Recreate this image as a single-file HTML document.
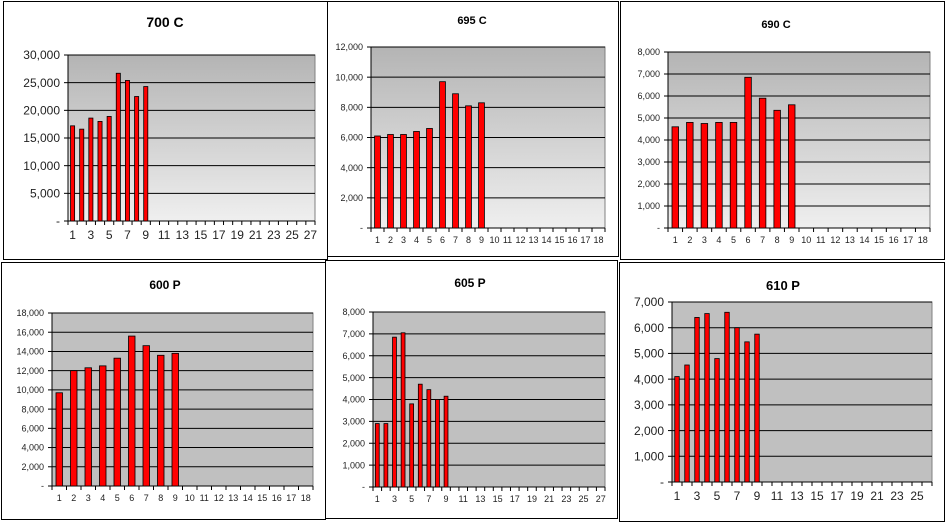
<!DOCTYPE html><html><head><meta charset="utf-8"><style>body{margin:0;background:#fff;width:946px;height:524px;overflow:hidden}svg{display:block}</style></head><body>
<svg id="s" width="946" height="524" xmlns="http://www.w3.org/2000/svg" font-family="Liberation Sans, sans-serif">
<defs><linearGradient id="g" x1="0" y1="0" x2="0" y2="1"><stop offset="0" stop-color="#b4b4b4"/><stop offset="1" stop-color="#efefef"/></linearGradient></defs>
</svg>
<script>
const P=[
{f:[3,1,324,258],p:[68,55,315,221],max:30000,step:5000,n:27,odd:1,t:"700 C",tx:165,ty:27,ts:14,ls:12,grad:1,v:[17200,16600,18600,18000,18900,26700,25400,22500,24300]},
{f:[327,1,291,255],p:[371,47,605,228],max:12000,step:2000,n:18,odd:0,t:"695 C",tx:472,ty:24,ts:11,ls:9,grad:1,v:[6100,6200,6200,6400,6600,9700,8900,8100,8300]},
{f:[620,1,324,258],p:[668,52,930,228],max:8000,step:1000,n:18,odd:0,t:"690 C",tx:776,ty:28,ts:11,ls:9,grad:1,v:[4600,4800,4750,4800,4800,6850,5900,5350,5600]},
{f:[1,262,324,257],p:[52,313,313,486],max:18000,step:2000,n:18,odd:0,t:"600 P",tx:165,ty:289,ts:12,ls:9,grad:0,v:[9700,12000,12300,12500,13300,15600,14600,13600,13800]},
{f:[325,260,292,258],p:[373,312,605,487],max:8000,step:1000,n:27,odd:1,t:"605 P",tx:470,ty:287,ts:12,ls:9,grad:0,v:[2900,2900,6850,7050,3800,4700,4450,4000,4150]},
{f:[619,262,325,259],p:[672,302,932,482],max:7000,step:1000,n:26,odd:1,t:"610 P",tx:783,ty:290,ts:13,ls:12,grad:0,v:[4100,4550,6400,6550,4800,6600,6000,5450,5750]}];
let h='';
for(const c of P){
const [x0,y0,x1,y1]=c.p,W=x1-x0,H=y1-y0,cw=W/c.n;
h+=`<rect x="${c.f[0]+.5}" y="${c.f[1]+.5}" width="${c.f[2]}" height="${c.f[3]}" fill="#fff" stroke="#000"/>`;
h+=`<text x="${c.tx}" y="${c.ty}" font-size="${c.ts}" font-weight="bold" text-anchor="middle">${c.t}</text>`;
h+=`<rect x="${x0}" y="${y0}" width="${W}" height="${H}" fill="${c.grad?'url(#g)':'#c0c0c0'}" stroke="#808080"/>`;
for(let v=0;v<=c.max;v+=c.step){const y=y1-v/c.max*H;
if(v>0)h+=`<line x1="${x0}" x2="${x1}" y1="${y}" y2="${y}" stroke="#000"/>`;
h+=`<line x1="${x0-4}" x2="${x0}" y1="${y}" y2="${y}" stroke="#000"/>`;
h+=`<text x="${x0-8}" y="${y+c.ls*0.35}" font-size="${c.ls}" text-anchor="end" fill="#222">${v?v.toLocaleString('en-US'):'-'}</text>`;}
h+=`<line x1="${x0}" x2="${x1}" y1="${y1}" y2="${y1}" stroke="#000"/><line x1="${x0}" x2="${x0}" y1="${y0}" y2="${y1}" stroke="#000"/>`;
for(let i=0;i<=c.n;i++){h+=`<line x1="${x0+i*cw}" x2="${x0+i*cw}" y1="${y1}" y2="${y1+4}" stroke="#000"/>`;}
for(let i=0;i<c.n;i++){if(c.odd&&i%2)continue;h+=`<text x="${x0+(i+.5)*cw}" y="${y1+c.ls+6}" font-size="${c.ls}" text-anchor="middle" fill="#222">${i+1}</text>`;}
c.v.forEach((v,i)=>{const bw=cw*0.45,bh=v/c.max*H;h+=`<rect x="${x0+(i+.5)*cw-bw/2}" y="${y1-bh}" width="${bw}" height="${bh}" fill="#ff0000" stroke="#000" stroke-width="0.8"/>`;});
}
document.getElementById('s').insertAdjacentHTML('beforeend',h);
</script></body></html>
